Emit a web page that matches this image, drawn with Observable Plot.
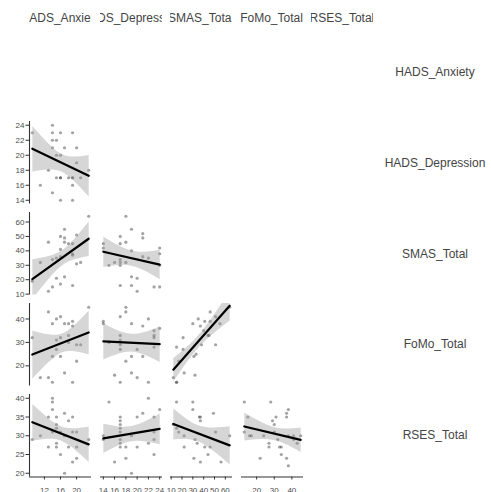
<!DOCTYPE html>
<html><head><meta charset="utf-8">
<script src="https://cdn.jsdelivr.net/npm/d3@7"></script>
<script src="https://cdn.jsdelivr.net/npm/@observablehq/plot@0.6"></script>
<style>
body{margin:0;background:#fff;}
#chart{position:relative;width:491px;height:492px;overflow:hidden;font-family:"Liberation Sans",Arial,sans-serif;}
.hdr{position:absolute;top:11.8px;height:14px;line-height:12px;font-size:12px;color:#444;display:flex;justify-content:center;overflow:hidden;white-space:nowrap;}
.rowlab{position:absolute;width:140px;text-align:center;font-size:12px;line-height:12px;color:#444;white-space:nowrap;}
#chart svg{position:absolute;overflow:visible;}
</style></head><body><div id="chart"></div>
<script>
const variables = ["HADS_Anxiety", "HADS_Depression", "SMAS_Total", "FoMo_Total", "RSES_Total"];
const anxietyTicks = [12, 16, 20];
const depressionTicks = [14, 16, 18, 20, 22, 24];
const smasTicks = [10, 20, 30, 40, 50, 60];
const fomoTicks = [20, 30, 40];
const rsesTicks = [20, 25, 30, 35, 40];

// [x, y] pairs per panel
const depressionVsAnxiety = [[9,23],[14,24],[14,23],[16,23],[19,23],[14,22],[15,22],[14,21],[17,21],[20,21],[15,20],[16,20],[20,19],[13,18],[23,18],[15,17],[16,17],[16,17],[18,17],[19,17],[19,17],[21,17],[11,16],[19,16],[14,15],[16,14],[19,14]];
const smasVsAnxiety = [[9,19],[11,32],[13,46],[13,12],[14,15],[14,34],[15,35],[15,21],[16,36],[16,41],[16,50],[16,17],[17,55],[17,49],[17,46],[18,45],[19,45],[19,38],[19,37],[19,16],[17,22],[20,51],[20,31],[21,32],[23,64]];
const smasVsDepression = [[14,45],[14,42],[15,30],[16,32],[17,50],[17,45],[17,34],[17,32],[17,30],[17,16],[18,64],[18,46],[18,32],[19,55],[19,40],[19,22],[19,16],[20,21],[20,12],[21,52],[21,49],[21,36],[22,35],[23,15],[24,15],[24,42],[24,38],[24,30]];
const fomoVsAnxiety = [[9,32],[11,15],[13,43],[13,15],[14,13],[14,38],[15,40],[16,41],[15,31],[15,27],[14,24],[16,24],[16,32],[17,38],[18,38],[17,17],[19,39],[19,37],[18,33],[19,13],[20,22],[20,29],[21,29],[23,45],[18,30]];
const fomoVsDepression = [[14,39],[14,38],[15,30],[16,16],[17,41],[18,45],[18,43],[17,13],[17,33],[17,31],[17,29],[17,27],[19,38],[18,22],[19,24],[19,17],[20,27],[20,15],[21,37],[21,24],[22,40],[22,13],[23,35],[23,33],[23,32],[23,28],[24,36]];
const fomoVsSmas = [[12,15],[15,13],[15,13],[15,28],[21,27],[21,32],[22,17],[17,22],[30,38],[32,16],[31,24],[35,40],[37,37],[41,39],[46,43],[46,39],[44,33],[51,29],[33,25],[38,29],[45,33],[51,41],[55,38],[64,45],[40,35]];
const rsesVsAnxiety = [[9,29],[11,30],[13,27],[13,35],[14,40],[14,39],[14,37],[14,31],[15,35],[15,33],[15,32],[15,28],[15,27],[16,31],[16,25],[17,20],[17,30],[17,36],[18,34],[18,27],[19,35],[19,31],[19,23],[20,31],[20,27],[20,24],[23,29]];
const rsesVsDepression = [[14,30],[14,29],[15,39],[16,23],[17,35],[17,34],[17,33],[17,32],[17,31],[17,29],[17,28],[17,27],[18,27],[18,24],[19,20],[19,30],[20,35],[20,27],[21,36],[22,40],[22,28],[23,35],[23,31],[23,29],[23,25],[24,37]];
const rsesVsSmas = [[12,33],[15,39],[15,32],[17,31],[22,30],[22,27],[30,39],[30,37],[31,24],[32,29],[34,28],[36,35],[37,35],[37,34],[37,23],[41,27],[44,25],[46,27],[49,36],[51,31],[56,23],[64,30]];
const rsesVsFomo = [[13,39],[13,31],[15,35],[16,30],[17,30],[22,24],[24,30],[27,28],[27,27],[28,39],[29,34],[30,33],[31,35],[30,31],[32,29],[33,27],[34,27],[34,25],[37,24],[37,36],[37,35],[38,37],[38,22],[38,30],[41,30],[41,29],[43,28],[45,30]];

const tickSets = [anxietyTicks, depressionTicks, smasTicks, fomoTicks, rsesTicks];
const panels = [
  {row: 1, col: 0, data: depressionVsAnxiety},
  {row: 2, col: 0, data: smasVsAnxiety},
  {row: 2, col: 1, data: smasVsDepression},
  {row: 3, col: 0, data: fomoVsAnxiety},
  {row: 3, col: 1, data: fomoVsDepression},
  {row: 3, col: 2, data: fomoVsSmas},
  {row: 4, col: 0, data: rsesVsAnxiety},
  {row: 4, col: 1, data: rsesVsDepression},
  {row: 4, col: 2, data: rsesVsSmas},
  {row: 4, col: 3, data: rsesVsFomo}
];

// layout
const colLeft = [29.3, 99.7, 170.1, 240.5, 310.9];
const rowTop = [30.4, 121.2, 212.0, 302.8, 393.6];
const panelW = 62, panelH = 82.5;

function domainOf(v) {
  const vals = [];
  for (const p of panels) {
    if (p.col === v) vals.push(...p.data.map(d => d[0]));
    if (p.row === v) vals.push(...p.data.map(d => d[1]));
  }
  const [a, b] = d3.extent(vals);
  const pad = (b - a) * 0.05;
  return [a - pad, b + pad];
}
const domains = variables.map((v, i) => domainOf(i));

const chart = document.getElementById("chart");
const font = "Liberation Sans, Arial, sans-serif";

// column strip headers
variables.forEach((v, i) => {
  const d = document.createElement("div");
  d.className = "hdr";
  d.style.left = colLeft[i] + "px";
  d.style.width = panelW + "px";
  d.textContent = v;
  chart.appendChild(d);
});
// row strip labels
variables.forEach((v, i) => {
  const d = document.createElement("div");
  d.className = "rowlab";
  d.style.left = (435 - 70) + "px";
  d.style.top = (rowTop[i] + panelH / 2 - 5.7) + "px";
  d.textContent = v;
  chart.appendChild(d);
});

for (const p of panels) {
  const ml = p.col === 0 ? 30 : 0;
  const mb = p.row === 4 ? 22 : 0;
  const xd = domains[p.col], yd = domains[p.row];
  const marks = [
    Plot.dot(p.data, {x: d => d[0], y: d => d[1], r: 1.6, fill: "#333", fillOpacity: 0.45, stroke: null}),
    Plot.linearRegressionY(p.data, {x: d => d[0], y: d => d[1], stroke: "#000", strokeWidth: 2.2, fill: "#999", fillOpacity: 0.4, ci: 0.95, clip: true})
  ];
  if (p.col === 0) {
    marks.push(Plot.ruleX([xd[0]], {stroke: "#333", strokeWidth: 1.1}));
    marks.push(Plot.axisY({ticks: tickSets[p.row], tickSize: 3.5, tickPadding: 1.5, fontSize: 8, stroke: "#333", fill: "#4d4d4d", tickFormat: d => d}));
  }
  if (p.row === 4) {
    marks.push(Plot.ruleY([yd[0]], {stroke: "#333", strokeWidth: 1.1}));
    marks.push(Plot.axisX({ticks: tickSets[p.col], tickSize: 3, tickPadding: 7.5, fontSize: 8, stroke: "#333", fill: "#4d4d4d", tickFormat: d => d}));
  }
  const svg = Plot.plot({
    width: panelW + ml,
    height: panelH + mb,
    marginLeft: ml, marginRight: 0, marginTop: 0, marginBottom: mb,
    x: {domain: xd, axis: null},
    y: {domain: yd, axis: null},
    style: {fontFamily: font, background: "transparent", overflow: "visible"},
    marks
  });
  svg.style.left = (colLeft[p.col] - ml) + "px";
  svg.style.top = rowTop[p.row] + "px";
  chart.appendChild(svg);
}
</script></body></html>
